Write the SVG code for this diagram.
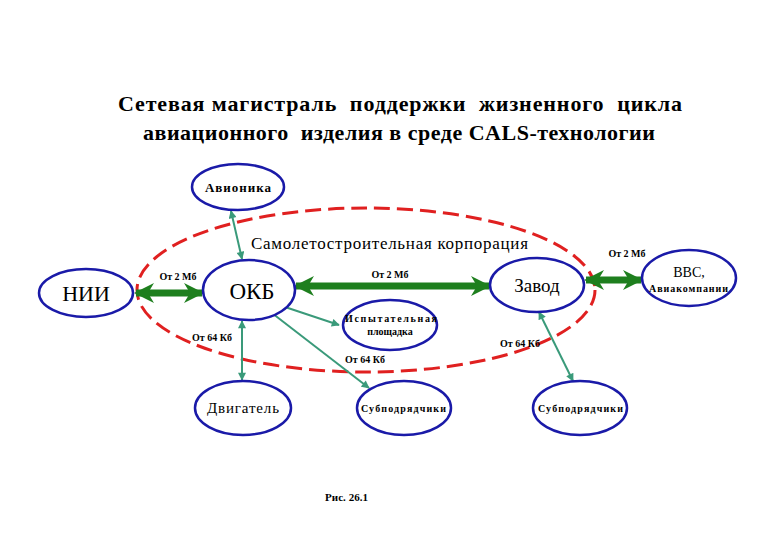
<svg xmlns="http://www.w3.org/2000/svg" width="780" height="540" viewBox="0 0 780 540" font-family="'Liberation Serif', 'DejaVu Serif', serif">
<style>
.t{fill:#000;}
.title{font-size:22px;font-weight:bold;white-space:pre;}
.node{fill:#fff;stroke:#1a1aa8;stroke-width:2.5;}
.lbl{font-size:10px;font-weight:bold;}
.thick{stroke:#1e7f1e;stroke-width:7;fill:none;}
.thin{stroke:#3a9a7a;stroke-width:2;fill:none;}
</style>
<defs>
<marker id="bh" viewBox="0 0 10 10" refX="9" refY="5" markerUnits="userSpaceOnUse" markerWidth="22" markerHeight="20" orient="auto-start-reverse">
<path d="M0,0 L10,5 L0,10 L3,5 Z" fill="#1e7f1e"/>
</marker>
<marker id="sh" viewBox="0 0 10 10" refX="9" refY="5" markerUnits="userSpaceOnUse" markerWidth="9" markerHeight="8" orient="auto-start-reverse">
<path d="M0,0 L10,5 L0,10 Z" fill="#3a9a7a"/>
</marker>
</defs>
<rect width="780" height="540" fill="#fff"/>
<text class="t title" x="118" y="111" textLength="564">Сетевая магистраль  поддержки  жизненного  цикла</text>
<text class="t title" x="143" y="140" textLength="512">авиационного  изделия в среде CALS-технологии</text>

<ellipse cx="366" cy="290" rx="229" ry="82" fill="none" stroke="#e02020" stroke-width="3" stroke-dasharray="16 7"/>
<text class="t" x="251" y="249" font-size="17" textLength="277">Самолетостроительная корпорация</text>

<g id="connectors">
<line class="thick" x1="136" y1="293" x2="202" y2="293" marker-start="url(#bh)" marker-end="url(#bh)"/>
<line class="thick" x1="296" y1="286" x2="489" y2="286" marker-start="url(#bh)" marker-end="url(#bh)"/>
<line class="thick" x1="586" y1="280" x2="641" y2="280" marker-start="url(#bh)" marker-end="url(#bh)"/>
<line class="thin" x1="231" y1="211" x2="242" y2="259" marker-start="url(#sh)" marker-end="url(#sh)"/>
<line class="thin" x1="242" y1="321" x2="242" y2="380" marker-start="url(#sh)" marker-end="url(#sh)"/>
<line class="thin" x1="285" y1="307" x2="339" y2="325" marker-end="url(#sh)"/>
<line class="thin" x1="268" y1="310" x2="369" y2="388" marker-start="url(#sh)" marker-end="url(#sh)"/>
<line class="thin" x1="539" y1="312" x2="573" y2="381" marker-start="url(#sh)" marker-end="url(#sh)"/>
</g>

<text class="t lbl" x="178" y="280" text-anchor="middle">От 2 Мб</text>
<text class="t lbl" x="390" y="278" text-anchor="middle">От 2 Мб</text>
<text class="t lbl" x="627" y="257" text-anchor="middle">От 2 Мб</text>
<text class="t lbl" x="212" y="341" text-anchor="middle">От 64 Кб</text>
<text class="t lbl" x="365" y="363" text-anchor="middle">От 64 Кб</text>
<text class="t lbl" x="520" y="347" text-anchor="middle">От 64 Кб</text>

<g id="avionika"><ellipse class="node" cx="238" cy="187" rx="46" ry="23"/><text class="t" x="205" y="192" font-size="13" font-weight="bold" textLength="66">Авионика</text></g>
<g id="nii"><ellipse class="node" cx="86" cy="293" rx="47" ry="24"/><text class="t" x="86" y="301" text-anchor="middle" font-size="22">НИИ</text></g>
<g id="okb"><ellipse class="node" cx="249" cy="290" rx="46" ry="30"/><text class="t" x="252" y="299" text-anchor="middle" font-size="23">ОКБ</text></g>
<g id="zavod"><ellipse class="node" cx="537" cy="285" rx="47" ry="27"/><text class="t" x="537" y="292" text-anchor="middle" font-size="19">Завод</text></g>
<g id="vvs"><ellipse class="node" cx="689" cy="278" rx="47" ry="28"/><text class="t" x="689" y="277" text-anchor="middle" font-size="14">ВВС,</text><text class="t" x="649" y="292" font-size="10" font-weight="bold" textLength="79">Авиакомпании</text></g>
<g id="ispyt"><ellipse class="node" cx="390" cy="325" rx="47" ry="25"/><text class="t" x="345" y="322" font-size="10" font-weight="bold" textLength="92">Испытательная</text><text class="t" x="390" y="335" text-anchor="middle" font-size="10" font-weight="bold">площадка</text></g>
<g id="dvigatel"><ellipse class="node" cx="243" cy="408" rx="48" ry="27"/><text class="t" x="207" y="413" font-size="15" textLength="72">Двигатель</text></g>
<g id="sub1"><ellipse class="node" cx="404" cy="408" rx="47" ry="27"/><text class="t" x="361" y="412" font-size="10" font-weight="bold" textLength="85">Субподрядчики</text></g>
<g id="sub2"><ellipse class="node" cx="580" cy="408" rx="47" ry="27"/><text class="t" x="538" y="412" font-size="10" font-weight="bold" textLength="85">Субподрядчики</text></g>

<text class="t" x="325" y="501" font-size="11" font-weight="bold" textLength="43">Рис. 26.1</text>
</svg>
